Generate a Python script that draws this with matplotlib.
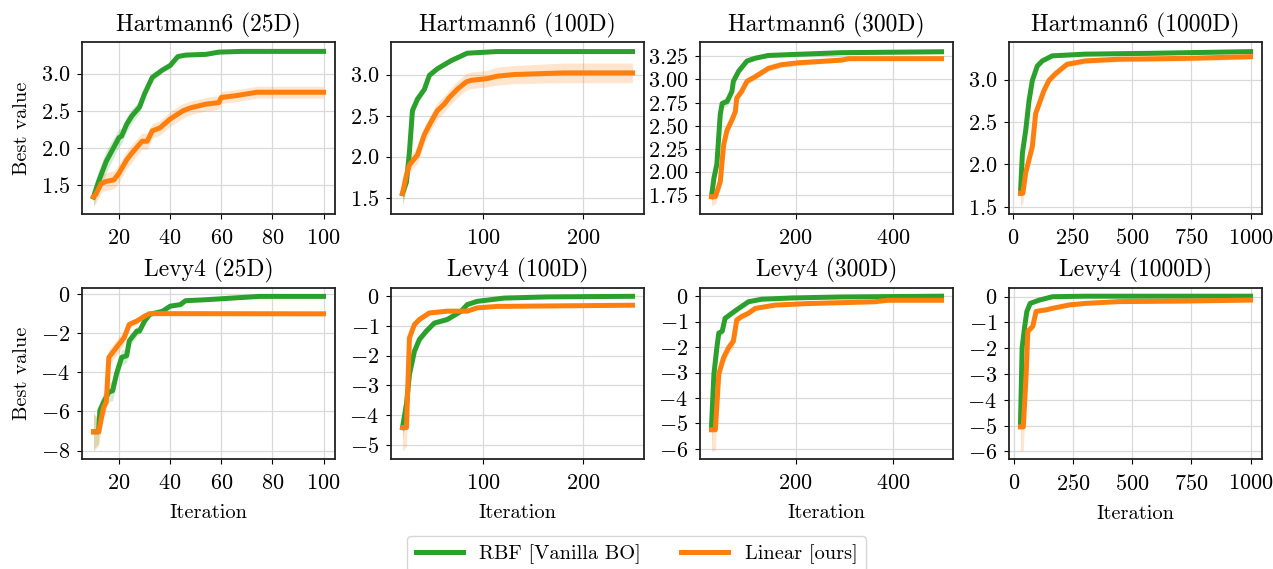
import matplotlib
matplotlib.use("Agg")
import matplotlib.pyplot as plt
from matplotlib.ticker import MultipleLocator
import numpy as np

plt.rcParams["font.family"] = "serif"
plt.rcParams["font.serif"] = ["cmr10", "DejaVu Serif"]
plt.rcParams["mathtext.fontset"] = "cm"
plt.rcParams["axes.formatter.use_mathtext"] = True

GREEN = "#2ca02c"
ORANGE = "#ff7f0e"

titles = [
    "Hartmann6 (25D)", "Hartmann6 (100D)", "Hartmann6 (300D)", "Hartmann6 (1000D)",
    "Levy4 (25D)", "Levy4 (100D)", "Levy4 (300D)", "Levy4 (1000D)",
]
legend_labels = ["RBF [Vanilla BO]", "Linear [ours]"]

# Hartmann6 25D
h25_rbf_x = [10, 12, 15, 20, 21, 23, 25, 28, 30, 33, 35, 37, 40, 43, 46, 54, 59, 68, 100]
h25_rbf_y = [1.34, 1.55, 1.82, 2.14, 2.16, 2.32, 2.43, 2.55, 2.73, 2.95, 3.0, 3.05, 3.11,
             3.23, 3.25, 3.26, 3.29, 3.30, 3.30]
h25_rbf_s = [0.12, 0.15, 0.15, 0.12, 0.1, 0.1, 0.1, 0.08, 0.06, 0.04, 0.04, 0.03, 0.03,
             0.02, 0.02, 0.02, 0.02, 0.02, 0.02]
h25_lin_x = [10, 11, 13, 15, 18, 20, 23, 25, 29, 31, 33, 36, 40, 45, 48, 54, 59, 60, 65, 74, 80, 100]
h25_lin_y = [1.34, 1.38, 1.52, 1.55, 1.57, 1.66, 1.84, 1.93, 2.09, 2.09, 2.23, 2.27, 2.39,
             2.50, 2.54, 2.59, 2.61, 2.68, 2.70, 2.75, 2.75, 2.75]
h25_lin_s = [0.12, 0.12, 0.12, 0.12, 0.12, 0.12, 0.12, 0.12, 0.11, 0.11, 0.1, 0.1, 0.1,
             0.1, 0.09, 0.09, 0.09, 0.08, 0.08, 0.08, 0.08, 0.08]

# Hartmann6 100D
h100_rbf_x = [19, 23, 26, 29, 34, 41, 46, 54, 68, 84, 114, 250]
h100_rbf_y = [1.55, 1.69, 2.06, 2.56, 2.70, 2.82, 2.99, 3.07, 3.17, 3.26, 3.28, 3.28]
h100_rbf_s = [0.15, 0.1, 0.08, 0.06, 0.05, 0.04, 0.03, 0.03, 0.02, 0.02, 0.02, 0.02]
h100_lin_x = [19, 23, 26, 34, 41, 48, 54, 61, 66, 74, 83, 88, 104, 114, 131, 181, 250]
h100_lin_y = [1.55, 1.78, 1.90, 2.02, 2.27, 2.43, 2.56, 2.64, 2.72, 2.82, 2.91, 2.93,
              2.95, 2.98, 3.00, 3.02, 3.02]
h100_lin_s = [0.12, 0.1, 0.1, 0.1, 0.1, 0.1, 0.1, 0.1, 0.1, 0.1, 0.1, 0.1, 0.1, 0.11,
              0.11, 0.12, 0.12]

# Hartmann6 300D
h300_rbf_x = [27, 32, 38, 45, 49, 59, 69, 72, 83, 100, 117, 144, 193, 295, 500]
h300_rbf_y = [1.73, 1.93, 2.08, 2.62, 2.74, 2.76, 2.87, 2.98, 3.09, 3.20, 3.23, 3.26,
              3.27, 3.29, 3.30]
h300_rbf_s = [0.08, 0.06, 0.05, 0.05, 0.05, 0.05, 0.04, 0.04, 0.03, 0.02, 0.02, 0.02,
              0.02, 0.02, 0.02]
h300_lin_x = [27, 35, 45, 52, 59, 69, 76, 79, 89, 100, 117, 144, 171, 205, 295, 309, 500]
h300_lin_y = [1.73, 1.73, 1.89, 2.29, 2.45, 2.56, 2.65, 2.80, 2.87, 2.98, 3.03, 3.12,
              3.16, 3.18, 3.21, 3.225, 3.225]
h300_lin_s = [0.1, 0.08, 0.06, 0.05, 0.05, 0.05, 0.05, 0.04, 0.04, 0.04, 0.03, 0.03,
              0.03, 0.03, 0.02, 0.02, 0.02]

# Hartmann6 1000D
h1000_rbf_x = [30, 38, 52, 66, 80, 101, 122, 164, 303, 583, 1000]
h1000_rbf_y = [1.66, 2.13, 2.40, 2.75, 2.99, 3.16, 3.22, 3.28, 3.30, 3.31, 3.33]
h1000_rbf_s = [0.15, 0.05, 0.04, 0.04, 0.03, 0.02, 0.02, 0.02, 0.02, 0.02, 0.02]
h1000_lin_x = [30, 40, 52, 80, 94, 129, 150, 178, 226, 303, 443, 722, 1000]
h1000_lin_y = [1.66, 1.66, 1.90, 2.21, 2.60, 2.87, 2.99, 3.07, 3.18, 3.22, 3.24, 3.25, 3.27]
h1000_lin_s = [0.15, 0.12, 0.06, 0.05, 0.05, 0.05, 0.04, 0.04, 0.03, 0.03, 0.03, 0.03, 0.03]

# Levy4 25D
l25_rbf_x = [10, 12, 12.5, 14, 16, 17.5, 19, 21, 23, 24, 27, 28, 30, 32, 37, 40, 44, 46,
             54, 65, 75, 100]
l25_rbf_y = [-7.04, -7.04, -5.94, -5.52, -5.01, -4.94, -4.08, -3.24, -3.15, -2.39, -1.89,
             -1.89, -1.38, -1.04, -0.88, -0.62, -0.54, -0.34, -0.29, -0.20, -0.12, -0.12]
l25_rbf_s = [0.9, 0.6, 0.5, 0.5, 0.5, 0.5, 0.4, 0.4, 0.35, 0.3, 0.25, 0.2, 0.15, 0.1,
             0.08, 0.08, 0.06, 0.05, 0.05, 0.05, 0.05, 0.05]
l25_lin_x = [10, 12, 14, 15, 16, 18, 20, 22, 24, 27, 30, 32, 100]
l25_lin_y = [-7.04, -7.04, -5.77, -5.52, -3.24, -2.90, -2.56, -2.23, -1.55, -1.38, -1.13,
             -1.0, -1.01]
l25_lin_s = [1.0, 0.7, 0.5, 0.4, 0.4, 0.4, 0.4, 0.3, 0.2, 0.15, 0.1, 0.1, 0.1]

# Levy4 100D
l100_rbf_x = [19, 23, 26, 31, 36, 43, 51, 64, 78, 84, 94, 121, 164, 250]
l100_rbf_y = [-4.42, -3.63, -2.63, -1.85, -1.45, -1.17, -0.90, -0.78, -0.50, -0.28,
              -0.17, -0.06, -0.02, 0.0]
l100_rbf_s = [0.4, 0.3, 0.2, 0.15, 0.12, 0.1, 0.08, 0.08, 0.06, 0.05, 0.04, 0.03, 0.03, 0.03]
l100_lin_x = [19, 23, 26, 31, 36, 46, 64, 84, 94, 114, 250]
l100_lin_y = [-4.42, -4.42, -1.40, -0.95, -0.78, -0.56, -0.50, -0.50, -0.39, -0.34, -0.30]
l100_lin_s = [0.8, 0.6, 0.2, 0.1, 0.08, 0.06, 0.05, 0.05, 0.04, 0.04, 0.04]

# Levy4 300D
l300_rbf_x = [27, 32, 38, 42, 49, 55, 69, 83, 103, 130, 193, 295, 500]
l300_rbf_y = [-5.12, -3.06, -2.03, -1.45, -1.38, -0.87, -0.67, -0.48, -0.22, -0.12,
              -0.07, -0.03, 0.0]
l300_rbf_s = [0.9, 0.3, 0.2, 0.15, 0.12, 0.1, 0.08, 0.06, 0.04, 0.03, 0.03, 0.03, 0.03]
l300_lin_x = [27, 35, 42, 52, 62, 72, 79, 89, 103, 117, 158, 226, 362, 390, 500]
l300_lin_y = [-5.25, -5.25, -3.06, -2.41, -2.03, -1.77, -0.93, -0.80, -0.67, -0.48,
              -0.35, -0.29, -0.22, -0.16, -0.16]
l300_lin_s = [0.85, 0.8, 0.3, 0.25, 0.25, 0.25, 0.15, 0.12, 0.1, 0.08, 0.06, 0.05,
              0.04, 0.04, 0.04]

# Levy4 1000D
l1000_rbf_x = [28, 35, 45, 55, 69, 108, 164, 303, 1000]
l1000_rbf_y = [-4.92, -1.98, -1.21, -0.57, -0.26, -0.13, 0.0, 0.02, 0.02]
l1000_rbf_s = [1.0, 0.2, 0.15, 0.1, 0.06, 0.04, 0.03, 0.03, 0.03]
l1000_lin_x = [28, 40, 52, 59, 80, 94, 136, 164, 234, 303, 443, 722, 1000]
l1000_lin_y = [-5.05, -5.05, -3.0, -1.34, -1.15, -0.57, -0.51, -0.45, -0.32, -0.26,
               -0.19, -0.17, -0.13]
l1000_lin_s = [0.95, 0.9, 0.2, 0.15, 0.12, 0.08, 0.06, 0.05, 0.05, 0.04, 0.04, 0.04, 0.04]

panels = [
    (h25_rbf_x, h25_rbf_y, h25_rbf_s, h25_lin_x, h25_lin_y, h25_lin_s),
    (h100_rbf_x, h100_rbf_y, h100_rbf_s, h100_lin_x, h100_lin_y, h100_lin_s),
    (h300_rbf_x, h300_rbf_y, h300_rbf_s, h300_lin_x, h300_lin_y, h300_lin_s),
    (h1000_rbf_x, h1000_rbf_y, h1000_rbf_s, h1000_lin_x, h1000_lin_y, h1000_lin_s),
    (l25_rbf_x, l25_rbf_y, l25_rbf_s, l25_lin_x, l25_lin_y, l25_lin_s),
    (l100_rbf_x, l100_rbf_y, l100_rbf_s, l100_lin_x, l100_lin_y, l100_lin_s),
    (l300_rbf_x, l300_rbf_y, l300_rbf_s, l300_lin_x, l300_lin_y, l300_lin_s),
    (l1000_rbf_x, l1000_rbf_y, l1000_rbf_s, l1000_lin_x, l1000_lin_y, l1000_lin_s),
]

x_steps = [20, 100, 200, 250, 20, 100, 200, 250]
y_steps = [0.5, 0.5, 0.25, 0.5, 2, 1, 1, 1]

fig, axes = plt.subplots(2, 4, figsize=(12.73, 5.69), dpi=100)
fig.subplots_adjust(left=0.0644, right=0.9914, top=0.926, bottom=0.193,
                    wspace=0.221, hspace=0.431)

handles = []
for i, ax in enumerate(axes.flat):
    rx, ry, rs, lx, ly, ls = [np.array(a, dtype=float) for a in panels[i]]
    ax.fill_between(rx, ry - rs, ry + rs, color=GREEN, alpha=0.2, lw=0)
    ax.fill_between(lx, ly - ls, ly + ls, color=ORANGE, alpha=0.2, lw=0)
    h1, = ax.plot(rx, ry, color=GREEN, lw=3.6, label=legend_labels[0])
    h2, = ax.plot(lx, ly, color=ORANGE, lw=3.6, label=legend_labels[1])
    if i == 0:
        handles = [h1, h2]
    ax.set_title(titles[i], fontsize=17, pad=8)
    ax.xaxis.set_major_locator(MultipleLocator(x_steps[i]))
    ax.yaxis.set_major_locator(MultipleLocator(y_steps[i]))
    ax.tick_params(labelsize=16)
    ax.tick_params(axis="x", pad=7)
    ax.tick_params(axis="y", pad=5)
    ax.grid(True, color="#d9d9d9", lw=0.9)
    ax.set_axisbelow(True)
    for sp in ax.spines.values():
        sp.set_linewidth(1.3)
        sp.set_color("#222222")
    if i % 4 == 0:
        ax.set_ylabel("Best value", fontsize=14.7, labelpad=7)
    if i >= 4:
        ax.set_xlabel("Iteration", fontsize=14.7, labelpad=8)

fig.legend(handles, legend_labels, loc="upper center", bbox_to_anchor=(0.5, 0.076),
           ncol=2, fontsize=14.7, handlelength=2.3, columnspacing=2.0)

fig.savefig("out.png", dpi=100)
